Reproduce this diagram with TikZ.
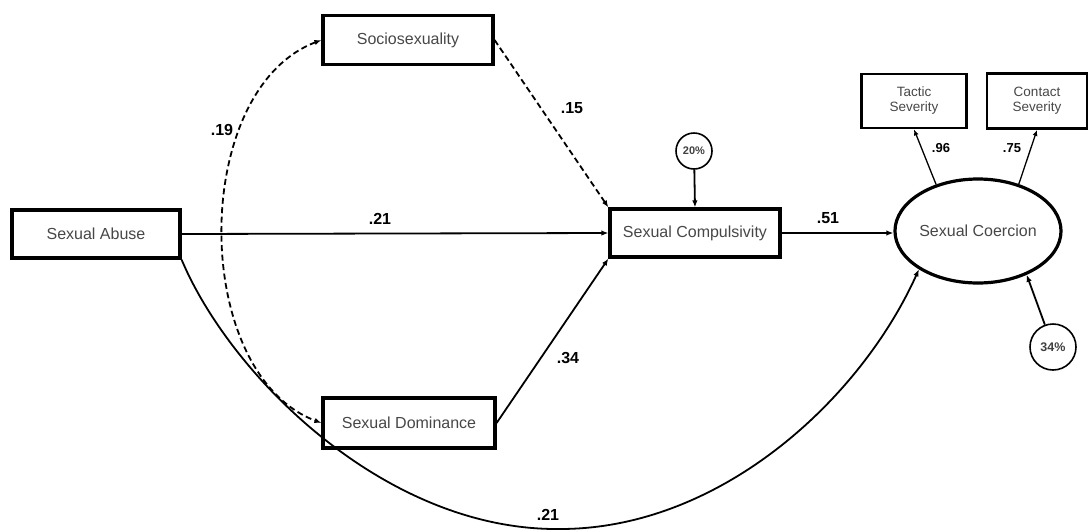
\documentclass[tikz,border=0pt]{standalone}
\usepackage{fontspec}
\setmainfont{Liberation Sans}
\usetikzlibrary{arrows.meta,shapes.geometric}

\begin{document}
\begin{tikzpicture}[x=1pt,y=-1pt,
        box/.style={draw, line width=3.2pt, text=black!72, font=\fontsize{16}{18}\selectfont, inner sep=0pt},
        smallbox/.style={box, line width=2.8pt, font=\fontsize{13.5}{15}\selectfont, align=center},
        resid/.style={draw, circle, line width=1.6pt, inner sep=0pt, font=\bfseries\fontsize{11}{12}\selectfont, text=black!75},
        path/.style={line width=1.8pt, -{Latex[length=7pt,width=5.5pt]}},
        weight/.style={font=\bfseries\fontsize{16}{18}\selectfont}]
        \useasboundingbox (0,0) rectangle (1088,531);

        % Observed variables
        \node[box, minimum width=168pt, minimum height=48pt] (abuse) at (96,234) {Sexual Abuse};
        \node[box, minimum width=170pt, minimum height=49pt] (socio) at (408,40) {Sociosexuality};
        \node[box, minimum width=172pt, minimum height=50pt] (domin) at (409,423) {Sexual Dominance};
        \node[box, minimum width=170pt, minimum height=48pt] (compul) at (695,233) {Sexual Compulsivity};

        % Latent variable and its indicators
        \node[box, ellipse, minimum width=127pt, minimum height=104pt] (coerc) at (978,231) {Sexual Coercion};
        \node[smallbox, minimum width=105pt, minimum height=54pt] (tactic) at (914,101) {Tactic\\Severity};
        \node[smallbox, minimum width=100pt, minimum height=55pt] (contact) at (1037,101) {Contact\\Severity};

        % Residuals
        \node[resid, minimum size=36pt] (rcompul) at (694,151) {20\%};
        \node[resid, minimum size=46pt, font=\bfseries\fontsize{12.5}{14}\selectfont] (rcoerc) at (1053,347) {34\%};

        % Paths
        \draw[path] (abuse.east) -- (compul.west);
        \draw[path] (compul.east) -- (compul.east -| coerc.west);
        \draw[path, dash pattern=on 6pt off 3.5pt] (socio.east) -- (compul.north west);
        \draw[path] (domin.east) -- (compul.south west);
        \draw[path, {Latex[length=7pt,width=5.5pt]}-{Latex[length=7pt,width=5.5pt]}, dash pattern=on 6pt off 3.5pt]
            (socio.west) .. controls (190,90) and (190,373) .. (domin.west);
        \coordinate (low) at (560,529);
        \draw[path] (abuse.south east) .. controls (230,375) and (385,531) .. (low)
            .. controls (720,529) and (860,400) .. (coerc.213);
        \draw[path] (rcompul) -- (compul.north);
        \draw[path] (rcoerc) -- (coerc.318);
        \draw[line width=1.3pt, -{Latex[length=6pt,width=5pt]}] (coerc.132) -- (tactic.south);
        \draw[line width=1.3pt, -{Latex[length=6pt,width=5pt]}] (coerc.49) -- (contact.south);

        % Weights
        \node[weight] (w19) at (222,130) {.19};
        \node[weight] (w15) at (572,108) {.15};
        \node[weight] (w21a) at (380,219) {.21};
        \node[weight] (w51) at (828,218) {.51};
        \node[weight] (w34) at (568,358) {.34};
        \node[weight] (w21b) at (548,515) {.21};
        \node[weight, font=\bfseries\fontsize{13}{15}\selectfont] (w96) at (941,148) {.96};
        \node[weight, font=\bfseries\fontsize{13}{15}\selectfont] (w75) at (1012,148) {.75};
\end{tikzpicture}
\end{document}
